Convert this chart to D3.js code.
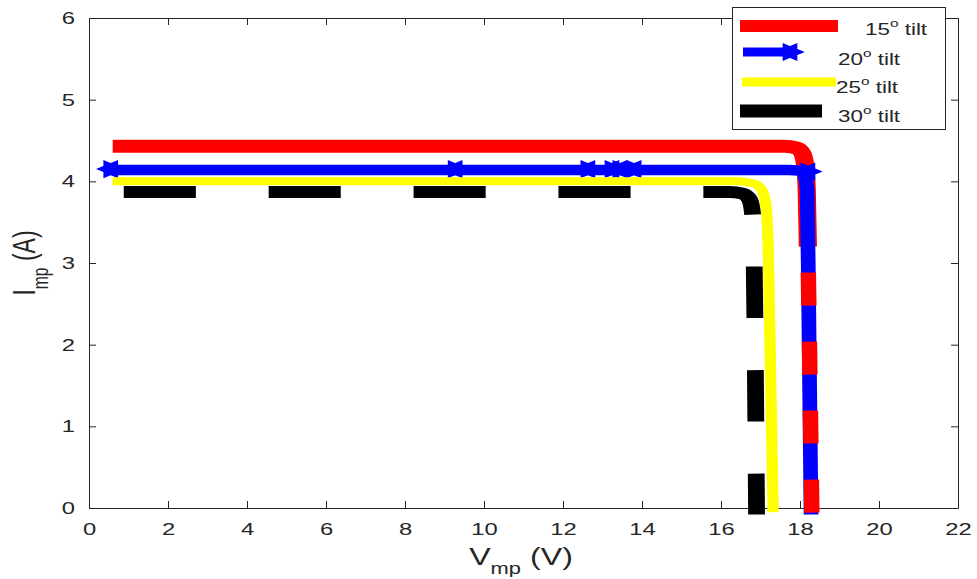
<!DOCTYPE html>
<html>
<head>
<meta charset="utf-8">
<script src="https://cdn.jsdelivr.net/npm/d3@7"></script>
<style>
  body { margin: 0; background: #fff; }
  svg { display: block; font-family: "Liberation Sans", Arial, sans-serif; }
</style>
</head>
<body>
<svg width="977" height="579"></svg>
<script>
/*****************************************
*   Data
*****************************************/
const tilts = ['15', '20', '25', '30'];

const v15 = [0.6, 17.6, 17.9, 18.05, 18.13, 18.17, 18.2, 18.24, 18.3];
const i15 = [4.43, 4.43, 4.41, 4.35, 4.2, 3.9, 3.2, 2.0, -0.08];

const v20 = [0.55, 17.7, 18.0, 18.12, 18.18, 18.22, 18.28];
const i20 = [4.14, 4.14, 4.13, 4.07, 3.9, 2.5, -0.08];
const markV20 = [0.55, 9.27, 12.63, 13.24, 13.44, 13.8, 18.2];
const markI20 = [4.15, 4.15, 4.15, 4.15, 4.15, 4.15, 4.12];

const v25 = [0.6, 16.4, 16.85, 17.05, 17.15, 17.2, 17.32];
const i25 = [4.0, 4.0, 3.97, 3.88, 3.65, 3.1, -0.05];

const v30 = [0.6, 16.2, 16.55, 16.72, 16.8, 16.84, 16.9];
const i30 = [3.87, 3.87, 3.85, 3.78, 3.6, 3.0, -0.08];

const xTicks = [0, 2, 4, 6, 8, 10, 12, 14, 16, 18, 20, 22];
const yTicks = [0, 1, 2, 3, 4, 5, 6];

/*****************************************
*   Layout
*****************************************/
const LEFT = 89, RIGHT = 958, TOP = 18, BOTTOM = 508;
const SX = 1.4;            // the whole figure was stretched sideways
const AXIS_COLOR = '#262626';

const svg = d3.select('svg');

const xScale = d3.scaleLinear().domain([0, 22]).range([LEFT, RIGHT]);
const yScale = d3.scaleLinear().domain([0, 6]).range([BOTTOM, TOP]);
// x scale for marks drawn inside the stretched group
const xLocal = d3.scaleLinear().domain([0, 22]).range([LEFT / SX, RIGHT / SX]);

function pts(vs, is) {
    return vs.map((v, k) => [v, is[k]]);
}

const line = d3.line()
    .x(d => xLocal(d[0]))
    .y(d => yScale(d[1]))
    .curve(d3.curveMonotoneX);

/*****************************************
*   Axes (MATLAB style box, ticks inside)
*****************************************/
function style_axis(g) {
    g.select('.domain').attr('stroke', AXIS_COLOR);
    g.selectAll('.tick line').attr('stroke', AXIS_COLOR);
    g.selectAll('.tick text')
        .attr('fill', AXIS_COLOR)
        .style('font-size', '17px')
        .style('font-family', '"Liberation Sans", Arial, sans-serif');
}

svg.append('g')
    .attr('transform', 'translate(0,' + BOTTOM + ')')
    .call(d3.axisBottom(xScale).tickValues(xTicks).tickSizeInner(-7).tickSizeOuter(0).tickPadding(15))
    .call(style_axis)
    .selectAll('.tick text').attr('transform', 'scale(' + SX + ',1)');

svg.append('g')
    .attr('transform', 'translate(' + LEFT + ',0)')
    .call(d3.axisLeft(yScale).tickValues(yTicks).tickFormat(d3.format('d'))
        .tickSizeInner(-7).tickSizeOuter(0))
    .call(style_axis)
    .selectAll('.tick text')
        .attr('x', -14 / SX)
        .attr('transform', 'scale(' + SX + ',1)');

svg.append('g')
    .attr('transform', 'translate(0,' + TOP + ')')
    .call(d3.axisTop(xScale).tickValues(xTicks).tickSizeInner(-7).tickSizeOuter(0).tickFormat(''))
    .call(style_axis);

svg.append('g')
    .attr('transform', 'translate(' + RIGHT + ',0)')
    .call(d3.axisRight(yScale).tickValues(yTicks).tickSizeInner(-7).tickSizeOuter(0).tickFormat(''))
    .call(style_axis);

/*****************************************
*   Curves
*****************************************/
const plot = svg.append('g').attr('transform', 'scale(' + SX + ',1)');
const p15 = pts(v15, i15);

// upper part of the red curve, solid
plot.append('path')
    .attr('d', line(p15.filter(d => d[1] >= 3.2)))
    .attr('fill', 'none').attr('stroke', '#ff0000').attr('stroke-width', 13);

plot.append('path')
    .attr('d', line(pts(v20, i20)))
    .attr('fill', 'none').attr('stroke', '#0000ff').attr('stroke-width', 10.5);

// red showing through the blue on the shared vertical part
plot.append('path')
    .attr('d', line(p15.filter(d => d[1] <= 3.2)))
    .attr('fill', 'none').attr('stroke', '#ff0000').attr('stroke-width', 11)
    .attr('stroke-dasharray', '33 36').attr('stroke-dashoffset', 43);

function hexagram(r) {
    const p = d3.path();
    for (let k = 0; k < 12; k++) {
        const rad = k % 2 === 0 ? r : r / Math.sqrt(3);
        const a = k * Math.PI / 6;
        const px = rad * Math.cos(a), py = rad * Math.sin(a);
        if (k === 0) p.moveTo(px, py); else p.lineTo(px, py);
    }
    p.closePath();
    return p.toString();
}

plot.selectAll('.mark20')
    .data(pts(markV20, markI20))
    .enter()
    .append('path')
    .attr('class', 'mark20')
    .attr('d', hexagram(9))
    .attr('transform', d => 'translate(' + xLocal(d[0]) + ',' + yScale(d[1]) + ')')
    .attr('fill', '#0000ff').attr('stroke', '#0000ff').attr('stroke-width', 1.5);

plot.append('path')
    .attr('d', line(pts(v25, i25)))
    .attr('fill', 'none').attr('stroke', '#ffff00').attr('stroke-width', 8);

plot.append('path')
    .attr('d', line(pts(v30, i30)))
    .attr('fill', 'none').attr('stroke', '#000000').attr('stroke-width', 12)
    .attr('stroke-dasharray', '51.5 52').attr('stroke-dashoffset', 95.6);

/*****************************************
*   Axis titles
*****************************************/
function sub_label(g, main, sub, rest, size) {
    const t = g.append('text')
        .attr('fill', AXIS_COLOR)
        .style('font-size', size + 'px');
    t.append('tspan').text(main);
    t.append('tspan').text(sub).style('font-size', (size * 0.68) + 'px').attr('dy', size * 0.4);
    t.append('tspan').text(rest).attr('dy', -size * 0.4);
    return t;
}

sub_label(svg.append('g').attr('transform', 'translate(521,565) scale(' + SX + ',1)'),
    'V', 'mp', ' (V)', 23).attr('text-anchor', 'middle');

sub_label(svg.append('g').attr('transform', 'translate(35,263) scale(' + SX + ',1) rotate(-90)'),
    'I', 'mp', ' (A)', 23).attr('text-anchor', 'middle');

/*****************************************
*   Legend
*****************************************/
const legend = svg.append('g');
legend.append('rect')
    .attr('x', 732.5).attr('y', 7.5).attr('width', 213).attr('height', 122)
    .attr('fill', '#fff').attr('stroke', AXIS_COLOR).attr('stroke-width', 1);

const legColors = ['#ff0000', '#0000ff', '#ffff00', '#000000'];
const legWidths = [12, 9, 9, 13];
const legX1 = [740, 743, 742, 740];
const legX2 = [838, 795, 836, 822];
const legY = [26, 52, 82, 111];
const legTextX = [865, 838, 836, 838];
const legTextY = [35, 65, 93, 122];

tilts.forEach((t, k) => {
    legend.append('line')
        .attr('x1', legX1[k]).attr('x2', legX2[k])
        .attr('y1', legY[k]).attr('y2', legY[k])
        .attr('stroke', legColors[k]).attr('stroke-width', legWidths[k]);
    const txt = legend.append('text')
        .attr('transform', 'translate(' + legTextX[k] + ',' + legTextY[k] + ') scale(' + SX + ',1)')
        .attr('fill', AXIS_COLOR)
        .style('font-size', '16px');
    txt.append('tspan').text(t);
    txt.append('tspan').text('o').style('font-size', '11px').attr('dy', -8);
    txt.append('tspan').text(' tilt').attr('dy', 8);
});

legend.append('path')
    .attr('d', hexagram(9))
    .attr('transform', 'translate(790,' + legY[1] + ') scale(' + SX + ',1)')
    .attr('fill', '#0000ff').attr('stroke', '#0000ff').attr('stroke-width', 1.5);
</script>
</body>
</html>
